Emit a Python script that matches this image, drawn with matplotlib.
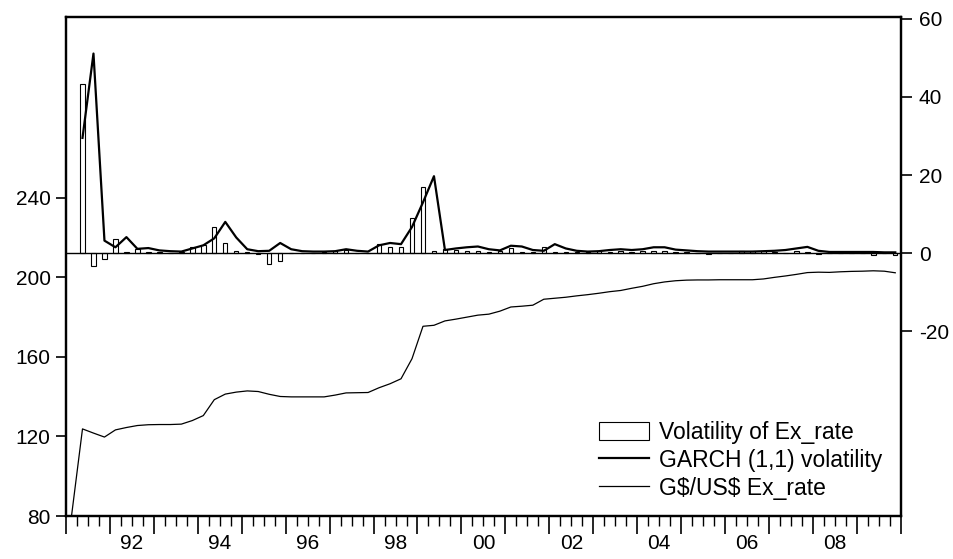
import matplotlib
matplotlib.use('Agg')
import matplotlib.pyplot as plt
import numpy as np
import pandas as pd

plt.rcParams['font.family'] = ['Liberation Sans', 'DejaVu Sans']
plt.rcParams['axes.unicode_minus'] = False

# quarterly data, 1991Q1 - 2009Q4
quarters = pd.period_range('1991Q1', '2009Q4', freq='Q')

ex_rate = [80.0, 123.8, 121.7, 119.7, 123.3, 124.5, 125.5, 125.9,
           126.0, 126.0, 126.2, 128.0, 130.5, 138.5, 141.3, 142.3,
           142.9, 142.6, 141.2, 140.1, 139.9, 139.9, 139.9, 139.9,
           140.8, 141.9, 142.0, 142.1, 144.5, 146.5, 149.0, 159.1,
           175.4, 175.9, 178.1, 179.0, 180.0, 181.0, 181.5, 183.0,
           185.1, 185.5, 186.0, 189.0, 189.5, 190.0, 190.7, 191.3,
           192.0, 192.8, 193.4, 194.5, 195.5, 196.8, 197.7, 198.3,
           198.6, 198.7, 198.7, 198.8, 198.8, 198.8, 198.8, 199.2,
           200.0, 200.7, 201.5, 202.4, 202.6, 202.5, 202.8, 203.0,
           203.1, 203.3, 203.1, 202.3]

vol = [np.nan, 43.2, -3.4, -1.5, 3.6, 0.3, 1.0, 0.3,
       0.2, 0.1, 0.3, 1.6, 2.0, 6.7, 2.7, 0.6,
       0.3, -0.2, -2.8, -2.0, 0.0, 0.1, 0.1, 0.2,
       0.6, 0.8, 0.1, 0.1, 2.3, 1.5, 1.5, 8.9,
       16.9, 0.5, 1.0, 0.8, 0.6, 0.5, 0.3, 0.5,
       1.3, 0.2, 0.4, 1.6, 0.3, 0.4, 0.4, 0.3,
       0.5, 0.4, 0.6, 0.4, 0.5, 0.5, 0.6, 0.3,
       0.2, 0.1, -0.3, 0.1, 0.1, 0.5, 0.5, 0.5,
       0.4, 0.1, 0.6, 0.3, -0.3, 0.1, 0.1, 0.2,
       0.1, -0.5, 0.1, -0.5]

garch = [np.nan, 29.5, 51.1, 3.2, 1.5, 4.1, 1.1, 1.3,
         0.7, 0.5, 0.4, 1.2, 2.0, 3.8, 8.0, 4.0,
         1.0, 0.5, 0.6, 2.6, 1.0, 0.5, 0.4, 0.4,
         0.5, 1.0, 0.6, 0.4, 2.0, 2.6, 2.3, 6.7,
         13.0, 19.7, 0.8, 1.2, 1.5, 1.7, 1.0, 0.7,
         1.9, 1.7, 0.8, 0.6, 2.3, 1.2, 0.6, 0.4,
         0.5, 0.8, 1.0, 0.8, 1.0, 1.5, 1.5, 0.9,
         0.7, 0.5, 0.4, 0.4, 0.4, 0.4, 0.4, 0.5,
         0.6, 0.8, 1.2, 1.6, 0.6, 0.3, 0.3, 0.3,
         0.3, 0.3, 0.2, 0.2]

left_ticks = [80, 120, 160, 200, 240]
right_ticks = [-20, 0, 20, 40, 60]
year_labels = ['92', '94', '96', '98', '00', '02', '04', '06', '08']
label_years = [1992, 1994, 1996, 1998, 2000, 2002, 2004, 2006, 2008]

# x position = middle of each quarter
x = np.array([q.year + (q.quarter - 0.5) / 4 for q in quarters])

fig = plt.figure(figsize=(9.54, 5.59), dpi=100)
ax = fig.add_axes([0.0692, 0.0769, 0.875, 0.893])
ax2 = ax.twinx()

l_ex, = ax.plot(x, ex_rate, color='black', lw=0.9, label='G\\$/US\\$ Ex_rate')
ax.set_ylim(80, 331)
ax.set_xlim(1991, 2010)

ax2.axhline(0, color='black', lw=1.0)
b_vol = ax2.bar(x, vol, width=0.1, facecolor='white', edgecolor='black', lw=0.8,
                label='Volatility of Ex_rate')
l_garch, = ax2.plot(x, garch, color='black', lw=1.6, label='GARCH (1,1) volatility')
ax2.set_ylim(-67.3, 60.5)

ax.set_yticks(left_ticks)
ax2.set_yticks(right_ticks)
ax.tick_params(axis='y', direction='out', length=7, width=1.2, labelsize=15, pad=4)
ax2.tick_params(axis='y', direction='out', length=8, width=1.2, labelsize=15, pad=5)

ax.set_xticks(np.arange(1991, 2011))
ax.set_xticklabels([])
ax.set_xticks(np.arange(1991, 2010.01, 0.25), minor=True)
ax.tick_params(axis='x', which='major', direction='out', length=13, width=1.2)
ax.tick_params(axis='x', which='minor', direction='out', length=7, width=1.0)

for yr, lab in zip(label_years, year_labels):
    ax.annotate(lab, xy=(yr + 0.5, 0), xycoords=('data', 'axes fraction'),
                xytext=(0, -27), textcoords='offset pixels',
                ha='center', va='center', fontsize=15)

for a in (ax, ax2):
    for s in a.spines.values():
        s.set_linewidth(1.6)

ax2.legend([b_vol, l_garch, l_ex],
           ['Volatility of Ex_rate', 'GARCH (1,1) volatility', 'G\\$/US\\$ Ex_rate'],
           loc='lower left', bbox_to_anchor=(0.627, 0.014),
           frameon=False, fontsize=16.5, handlelength=2.2, handleheight=0.8,
           handletextpad=0.42, labelspacing=0.22, borderaxespad=0)

fig.savefig('out.png', dpi=100)
